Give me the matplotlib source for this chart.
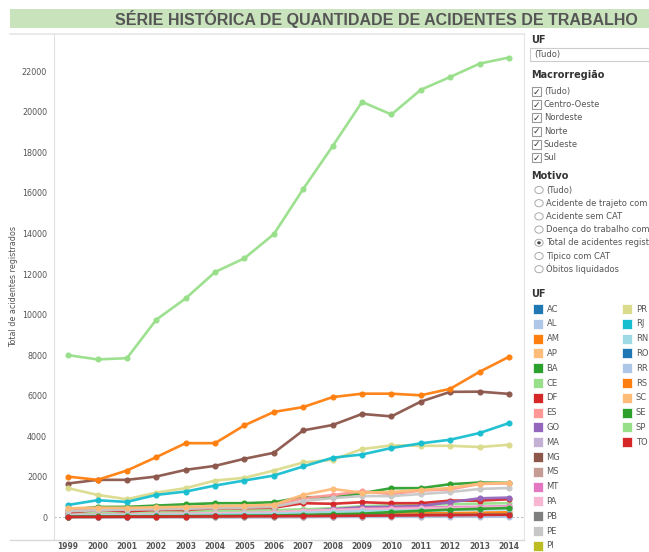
import matplotlib
matplotlib.use("Agg")
import matplotlib.pyplot as plt
from matplotlib.patches import Rectangle, Circle

years = list(range(1999, 2015))
ufs = ["AC", "AL", "AM", "AP", "BA", "CE", "DF", "ES", "GO", "MA", "MG", "MS", "MT", "PA",
       "PB", "PE", "PI", "PR", "RJ", "RN", "RO", "RR", "RS", "SC", "SE", "SP", "TO"]
colors = ["#1f77b4", "#aec7e8", "#ff7f0e", "#ffbb78", "#2ca02c", "#98df8a", "#d62728", "#ff9896",
          "#9467bd", "#c5b0d5", "#8c564b", "#c49c94", "#e377c2", "#f7b6d2", "#7f7f7f", "#c7c7c7",
          "#bcbd22", "#dbdb8d", "#17becf", "#9edae5", "#1f77b4", "#aec7e8", "#ff7f0e", "#ffbb78",
          "#2ca02c", "#98df8a", "#d62728"]

AC = [10, 12, 15, 15, 18, 20, 22, 25, 30, 35, 40, 45, 50, 55, 60, 60]
AL = [100, 120, 130, 150, 170, 200, 220, 250, 300, 380, 420, 450, 470, 480, 480, 500]
AM = [60, 70, 80, 90, 100, 110, 120, 130, 140, 160, 170, 180, 200, 210, 230, 250]
AP = [10, 12, 14, 15, 18, 20, 22, 25, 28, 30, 35, 38, 40, 45, 50, 55]
BA = [366, 515, 515, 580, 645, 697, 700, 747, 994, 994, 1192, 1440, 1440, 1637, 1717, 1700]
CE = [200, 220, 230, 240, 250, 330, 330, 350, 400, 450, 550, 600, 620, 650, 680, 700]
DF = [233, 366, 300, 366, 366, 450, 450, 480, 697, 670, 747, 697, 700, 826, 826, 895]
ES = [350, 400, 420, 450, 480, 520, 540, 600, 940, 1100, 1280, 1150, 1320, 1380, 1650, 1680]
GO = [100, 110, 120, 130, 150, 170, 190, 220, 300, 400, 500, 520, 560, 750, 940, 975]
MA = [80, 90, 100, 110, 120, 140, 160, 180, 250, 300, 350, 380, 420, 450, 500, 520]
MG = [1670, 1850, 1850, 2013, 2345, 2540, 2890, 3185, 4290, 4555, 5100, 4980, 5710, 6190, 6200, 6090]
MS = [80, 90, 100, 110, 130, 150, 170, 190, 260, 300, 350, 380, 400, 420, 440, 460]
MT = [100, 110, 120, 140, 160, 180, 200, 220, 300, 350, 420, 450, 480, 500, 520, 540]
PA = [120, 130, 140, 160, 180, 200, 220, 250, 320, 360, 400, 420, 440, 460, 480, 500]
PB = [30, 35, 40, 45, 50, 55, 60, 70, 80, 90, 100, 110, 120, 130, 140, 150]
PE = [300, 350, 380, 400, 420, 460, 480, 520, 800, 950, 1050, 1050, 1150, 1250, 1400, 1450]
PI = [20, 25, 30, 35, 40, 45, 50, 55, 60, 70, 80, 90, 100, 110, 120, 130]
PR = [1440, 1108, 895, 1222, 1440, 1817, 1950, 2310, 2706, 2840, 3370, 3550, 3530, 3530, 3470, 3580]
RJ = [613, 845, 762, 1108, 1272, 1570, 1817, 2063, 2510, 2940, 3100, 3420, 3650, 3830, 4160, 4650]
RN = [80, 90, 100, 110, 120, 140, 160, 180, 220, 260, 300, 320, 340, 360, 380, 400]
RO = [30, 35, 40, 45, 50, 55, 60, 65, 70, 75, 80, 85, 90, 95, 100, 100]
RR = [5, 5, 6, 8, 10, 10, 12, 15, 18, 20, 22, 25, 28, 30, 30, 32]
RS = [2010, 1850, 2310, 2970, 3660, 3660, 4540, 5200, 5440, 5930, 6100, 6100, 6020, 6340, 7180, 7920]
SC = [450, 480, 470, 500, 520, 560, 580, 620, 1110, 1400, 1220, 1250, 1350, 1450, 1660, 1690]
SE = [40, 45, 50, 55, 60, 70, 80, 90, 120, 150, 180, 260, 320, 380, 420, 460]
SP = [8000, 7790, 7850, 9750, 10800, 12100, 12780, 13970, 16200, 18310, 20490, 19870, 21090, 21720, 22380, 22680]
TO = [20, 25, 30, 35, 40, 45, 50, 55, 60, 70, 80, 90, 100, 110, 120, 130]

series = [AC, AL, AM, AP, BA, CE, DF, ES, GO, MA, MG, MS, MT, PA, PB, PE, PI, PR, RJ, RN,
          RO, RR, RS, SC, SE, SP, TO]
yticks = [0, 2000, 4000, 6000, 8000, 10000, 12000, 14000, 16000, 18000, 20000, 22000]
title = "SÉRIE HISTÓRICA DE QUANTIDADE DE ACIDENTES DE TRABALHO"
macro = ["(Tudo)", "Centro-Oeste", "Nordeste", "Norte", "Sudeste", "Sul"]
motivos = ["(Tudo)", "Acidente de trajeto com CAT", "Acidente sem CAT", "Doença do trabalho com CAT",
           "Total de acidentes registrados", "Típico com CAT", "Óbitos liquidados"]

W, H = 649, 552
fig = plt.figure(figsize=(W / 100, H / 100), dpi=100)
plt.rcParams['font.family'] = ['DejaVu Sans']

def fx(x):
    return x / W

def fy(y):
    return 1 - y / H

# title bar
fig.patches.append(Rectangle((fx(10), fy(28)), fx(639), 19 / H, transform=fig.transFigure,
                             facecolor="#c9e3bc", edgecolor="none"))
tt = fig.text(fx(376), fy(18.5), title, ha="center", va="center", fontsize=13, fontweight="bold",
              color="#555555", family="Liberation Sans")
renderer = fig.canvas.get_renderer()
wpx = tt.get_window_extent(renderer).width
tt.set_fontsize(13 * 521 / wpx)

BOT = 539.5
# frame lines
fig.lines.append(plt.Line2D([fx(10), fx(524)], [fy(34), fy(34)], transform=fig.transFigure,
                            color="#e6e6e6", lw=1.2))
fig.lines.append(plt.Line2D([fx(10), fx(524)], [fy(BOT), fy(BOT)], transform=fig.transFigure,
                            color="#d9d9d9", lw=1.0))

ax = fig.add_axes([fx(54), fy(BOT), (524 - 54) / W, (BOT - 34) / H])
for s, c in zip(series, colors):
    ax.plot(years, s, color=c, lw=1.9, marker="o", markersize=3.4, alpha=0.95, solid_joinstyle="round")

ax.axhline(0, color="#bbbbbb", lw=0.8, ls=(0, (2, 2)), zorder=0)
ax.set_xlim(1998.52, 2014.51)
ax.set_ylim(-1092, 23840)
ax.set_xticks(years)
ax.set_xticklabels([str(y) for y in years], fontsize=5.5, fontweight="bold", color="#555555")
ax.set_yticks(yticks)
ax.set_yticklabels([str(v) for v in yticks], fontsize=5.8, color="#555555")
ax.tick_params(axis="x", length=1.5, color="#cccccc", pad=0.5)
ax.tick_params(axis="y", length=0, pad=5)
for side in ["top", "bottom"]:
    ax.spines[side].set_visible(False)
ax.spines["right"].set_color("#e6e6e6")
ax.spines["left"].set_color("#e0e0e0")
ax.set_ylabel("Total de acidentes registrados", fontsize=5.8, color="#555555")
ax.yaxis.set_label_coords((18 - 54) / 470, 0.5)

# right panel
hdr = dict(fontsize=7, fontweight="bold", color="#333333", va="center", ha="left")
lab = dict(fontsize=6, color="#555555", va="center", ha="left")
fig.text(fx(531), fy(40), "UF", **hdr)
fig.patches.append(Rectangle((fx(530), fy(61)), fx(130), 13 / H, transform=fig.transFigure,
                             facecolor="white", edgecolor="#cccccc", lw=0.8))
fig.text(fx(534), fy(54.5), "(Tudo)", **lab)

fig.text(fx(531), fy(75), "Macrorregião", **hdr)
for i, m in enumerate(macro):
    yy = 91.5 + i * 13.2
    fig.patches.append(Rectangle((fx(532), fy(yy + 4.5)), 9 / W, 9 / H, transform=fig.transFigure,
                                 facecolor="white", edgecolor="#999999", lw=0.8))
    fig.text(fx(536.5), fy(yy + 0.5), "✓", fontsize=6.5, color="#333333", ha="center", va="center")
    fig.text(fx(544), fy(yy), m, **lab)

fig.text(fx(531), fy(176), "Motivo", **hdr)
for i, m in enumerate(motivos):
    yy = 190 + i * 13.2
    fig.patches.append(Circle((fx(539), fy(yy)), 4.2 / W, transform=fig.transFigure,
                              facecolor="white", edgecolor="#aaaaaa", lw=0.7))
    if i == 4:
        fig.patches.append(Circle((fx(539), fy(yy)), 1.8 / W, transform=fig.transFigure,
                                  facecolor="#444444", edgecolor="none"))
    fig.text(fx(546), fy(yy), m, **lab)

fig.text(fx(531), fy(294), "UF", **hdr)
for i, (u, c) in enumerate(zip(ufs, colors)):
    if i < 17:
        x0, yy = 532.5, 309 + i * 14.8
    else:
        x0, yy = 622, 309 + (i - 17) * 14.8
    fig.patches.append(Rectangle((fx(x0), fy(yy + 5)), 10 / W, 10 / H, transform=fig.transFigure,
                                 facecolor=c, edgecolor="white", lw=0.5))
    fig.text(fx(x0 + 14), fy(yy), u, **lab)

fig.savefig("out.png", dpi=100)
